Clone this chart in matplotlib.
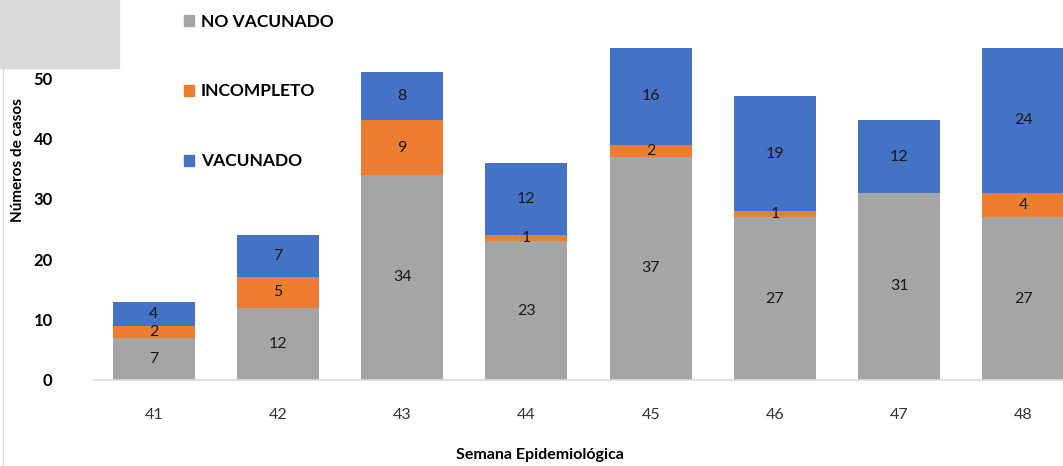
import numpy as np
import matplotlib.pyplot as plt
from matplotlib.patches import Patch, Rectangle
from matplotlib.lines import Line2D

plt.rcParams['font.family'] = ['Lato', 'DejaVu Sans']

semanas = ['41', '42', '43', '44', '45', '46', '47', '48']
no_vacunado = [7, 12, 34, 23, 37, 27, 31, 27]
incompleto = [2, 5, 9, 1, 2, 1, 0, 4]
vacunado = [4, 7, 8, 12, 16, 19, 12, 24]

series = [('NO VACUNADO', no_vacunado, '#A5A5A5'),
          ('INCOMPLETO', incompleto, '#ED7D31'),
          ('VACUNADO', vacunado, '#4472C4')]

W, H = 1063, 466
fig = plt.figure(figsize=(W / 100, H / 100), dpi=100)
ax = fig.add_axes([93 / W, 1 - 380 / H, 1 - 93 / W, (380 - 48) / H])

x = np.arange(len(semanas))
bottom = np.zeros(len(semanas))
for name, vals, color in series:
    vals = np.array(vals)
    ax.bar(x, vals, 0.66, bottom=bottom, color=color, label=name, zorder=2)
    for xi, b, v in zip(x, bottom, vals):
        if v > 0:
            ax.text(xi, b + v / 2, str(v), ha='center', va='center',
                    fontsize=11.5, color='#1a1a1a', zorder=3)
    bottom += vals

ax.set_xlim(-0.49, 7.32)
ax.set_ylim(0, 55)
ax.set_yticks([0, 10, 20, 30, 40, 50])
ax.set_xticks(x)
ax.set_xticklabels(semanas)
for s in ['top', 'right', 'left']:
    ax.spines[s].set_visible(False)
ax.spines['bottom'].set_color('#d9d9d9')
ax.spines['bottom'].set_linewidth(1.2)
ax.tick_params(axis='both', length=0)
ax.tick_params(axis='x', pad=20, labelsize=11.5, labelcolor='#333333')
ax.tick_params(axis='y', pad=29, labelsize=12)
for lbl in ax.get_yticklabels():
    lbl.set_fontweight('bold')

fig.text(18 / W, 1 - 160 / H, 'Números de casos', rotation=90, ha='center',
         va='center', fontsize=11, fontweight='bold')
fig.text(540 / W, 1 - 455 / H, 'Semana Epidemiológica', ha='center',
         va='center', fontsize=11.5, fontweight='bold')

handles = [Patch(color=c, label=n) for n, v, c in series]
leg = ax.legend(handles=handles, loc='upper left',
                bbox_to_anchor=(168 / W, 1 + 2 / H), bbox_transform=fig.transFigure,
                frameon=False, handlelength=0.6, handleheight=0.6,
                handletextpad=0.4, labelspacing=3.1, fontsize=12.5)
for t in leg.get_texts():
    t.set_fontweight('bold')

# cropped screenshot remains
fig.patches.append(Rectangle((0, 1 - 68 / H), 119 / W, 68 / H,
                             transform=fig.transFigure, color='#d9d9d9', zorder=0))
fig.lines.append(Line2D([3 / W, 3 / W], [0, 1 - 68 / H], transform=fig.transFigure,
                        color='#d9d9d9', lw=1))

fig.savefig('out.png', dpi=100)
